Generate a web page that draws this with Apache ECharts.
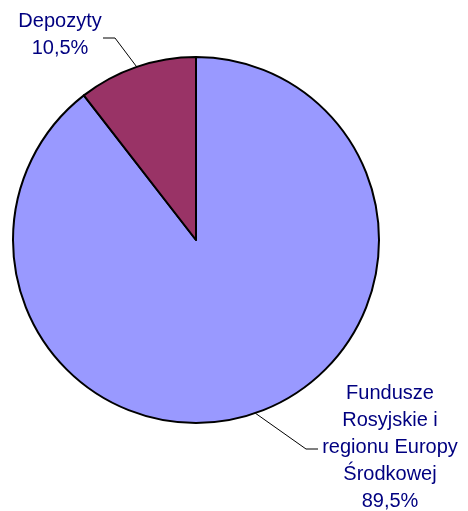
<!DOCTYPE html>
<html>
<head>
<meta charset="utf-8">
<script src="https://cdn.jsdelivr.net/npm/echarts@6/dist/echarts.min.js"></script>
<style>
  html, body { margin: 0; padding: 0; background: #fff; }
  #chart { width: 468px; height: 511px; }
</style>
</head>
<body>
<div id="chart"></div>
<script>
const categories = ['Fundusze\nRosyjskie i\nregionu Europy\nŚrodkowej', 'Depozyty']
const values = [89.5, 10.5]
const colors = ['#9999ff', '#993366']

// where each label block sits and where its leader line bends
const labelSpots = [
  { x: 390, y: 447, elbow: [306, 449], end: [318, 449] },
  { x: 60, y: 35, elbow: [115, 38], end: [103, 38] }
]

const chart = echarts.init(document.getElementById('chart'))

const option = {
  animation: false,
  series: [
    {
      type: 'pie',
      center: [196, 240],
      radius: 183,
      startAngle: 90,
      clockwise: true,
      data: categories.map((name, i) => ({
        name: name,
        value: values[i],
        itemStyle: { color: colors[i] }
      })),
      itemStyle: {
        borderColor: '#000',
        borderWidth: 2
      },
      label: {
        show: true,
        color: '#000080',
        fontFamily: 'Liberation Sans, Arial, sans-serif',
        fontSize: 20,
        lineHeight: 27,
        align: 'center',
        formatter: function (p) {
          return p.name + '\n' + p.value.toFixed(1).replace('.', ',') + '%'
        }
      },
      labelLine: {
        show: true,
        lineStyle: { color: '#000', width: 1 }
      },
      labelLayout: function (params) {
        const spot = labelSpots[params.dataIndex]
        const start = params.labelLinePoints ? params.labelLinePoints[0] : spot.elbow
        return {
          x: spot.x,
          y: spot.y,
          align: 'center',
          verticalAlign: 'middle',
          labelLinePoints: [start, spot.elbow, spot.end]
        }
      }
    }
  ]
}

chart.setOption(option)
</script>
</body>
</html>
